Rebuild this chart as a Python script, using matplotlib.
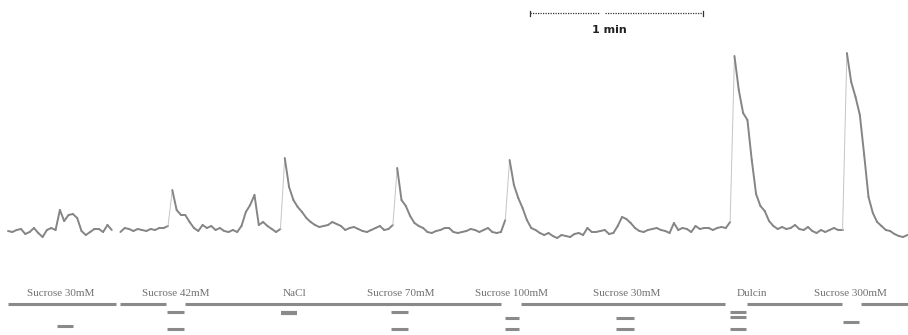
import numpy as np
import matplotlib
matplotlib.use("Agg")
import matplotlib.pyplot as plt
from matplotlib.collections import LineCollection

# Registro de la respuesta nerviosa (unidades arbitrarias), muestreado cada 1.5 s
dt = 1.5
respuesta = [
    1, 0, 2, 3, -2, 0, 4, -1, -5, 2,
    4, 2, 22, 11, 17, 18, 14, 1, -3, 0,
    3, 3, 0, 7, 2, np.nan, 0, 4, 3, 1,
    3, 2, 1, 3, 2, 4, 4, 6, 42, 22,
    17, 17, 10, 4, 1, 7, 4, 6, 2, 4,
    1, 0, 2, 0, 6, 20, 27, 37, 7, 10,
    6, 3, 0, 3, 74, 45, 32, 25, 20, 14,
    10, 7, 5, 6, 7, 10, 8, 6, 2, 4,
    5, 3, 1, 0, 2, 4, 6, 2, 3, 7,
    64, 32, 26, 16, 9, 6, 4, 0, -1, 1,
    2, 4, 4, 0, -1, 0, 1, 3, 2, 0,
    2, 4, 0, -1, 0, 12, 72, 47, 34, 24,
    12, 4, 2, -1, -3, -1, -4, -6, -3, -4,
    -5, -2, -1, -3, 4, 0, 0, 1, 2, -2,
    -1, 6, 15, 13, 9, 4, 1, 0, 2, 3,
    4, 2, 1, -1, 9, 2, 4, 3, 0, 6,
    3, 4, 4, 2, 4, 5, 4, 10, 176, 142,
    119, 112, 72, 38, 26, 21, 11, 6, 3, 5,
    3, 4, 7, 3, 2, 5, 1, -1, 2, 0,
    2, 4, 2, 2, 179, 150, 135, 117, 77, 35,
    19, 10, 6, 2, 1, -2, -4, -5, -3,
]

# Estimulos: nombre, inicio (s), fin (s), filas de las marcas
estimulos = ["Sucrose 30mM", "Sucrose 42mM", "NaCl", "Sucrose 70mM",
             "Sucrose 100mM", "Sucrose 30mM", "Dulcin", "Sucrose 300mM"]
inicio = [17.0, 55.2, 94.7, 132.8, 172.4, 210.9, 250.4, 289.6]
fin = [22.5, 61.0, 100.2, 138.7, 177.2, 217.1, 256.0, 295.2]
filas = [[-94], [-80, -97], [-81], [-80, -97], [-86, -97], [-86, -97],
         [-80, -85, -97], [-90]]
pos_rotulo = [18.4, 58.3, 99.5, 136.3, 174.5, 214.7, 258.1, 292.4]

# Linea de marcas superior (tramos continuos)
linea_ini = [0.0, 38.8, 61.4, 177.9, 256.3, 295.9]
linea_fin = [37.5, 54.8, 171.0, 248.7, 289.3, 312.2]

# Barra de escala
escala_ini = 181.0
escala_len = 60.0

t = np.arange(len(respuesta)) * dt
v = np.array(respuesta, dtype=float)

fig = plt.figure(figsize=(9.08, 3.35), dpi=100)
ax = fig.add_axes([0, 0, 1, 1])
ax.set_xlim(-2.775, 312.2)
ax.set_ylim(-103, 232)
ax.axis("off")

# Trazo: subidas rapidas mas claras y finas, como en el registro original
segs, cols, anchos = [], [], []
for i in range(len(t) - 1):
    if np.isnan(v[i]) or np.isnan(v[i + 1]):
        continue
    segs.append([(t[i], v[i]), (t[i + 1], v[i + 1])])
    if v[i + 1] - v[i] > 25:
        cols.append("#c4c4c4")
        anchos.append(0.7)
    else:
        cols.append("#858585")
        anchos.append(1.4)
lc = LineCollection(segs, colors=cols, linewidths=anchos, capstyle="round",
                    joinstyle="round")
ax.add_collection(lc)

# Marcas de estimulo
gris = "#8a8a8a"
for a, b in zip(linea_ini, linea_fin):
    ax.plot([a, b], [-72, -72], color=gris, lw=2.2, solid_capstyle="butt")
for nom, a, b, ff, xr in zip(estimulos, inicio, fin, filas, pos_rotulo):
    for f in ff:
        ancho = 3.0 if nom == "NaCl" else 2.2
        ax.plot([a, b], [f, f], color=gris, lw=ancho, solid_capstyle="butt")
    ax.text(xr, -61, nom, ha="center", va="center", fontsize=8,
            family="Liberation Serif", color="#707070")

# Barra de escala de 1 minuto
yb = 218.7
mitad = escala_ini + 24.3
ax.plot([escala_ini, mitad], [yb, yb], color="#333333", lw=0.9, ls=(0, (1, 1)))
ax.plot([mitad + 1.7, escala_ini + escala_len], [yb, yb], color="#333333",
        lw=0.9, ls=(0, (1, 1)))
for xe in [escala_ini, escala_ini + escala_len]:
    ax.plot([xe, xe], [yb - 2.2, yb + 2.2], color="#333333", lw=0.9)
ax.text(escala_ini + 27.5, 202, "1 min", ha="center", va="center",
        fontsize=8, fontweight="bold", color="#222222")

fig.savefig("out.png", dpi=100)
